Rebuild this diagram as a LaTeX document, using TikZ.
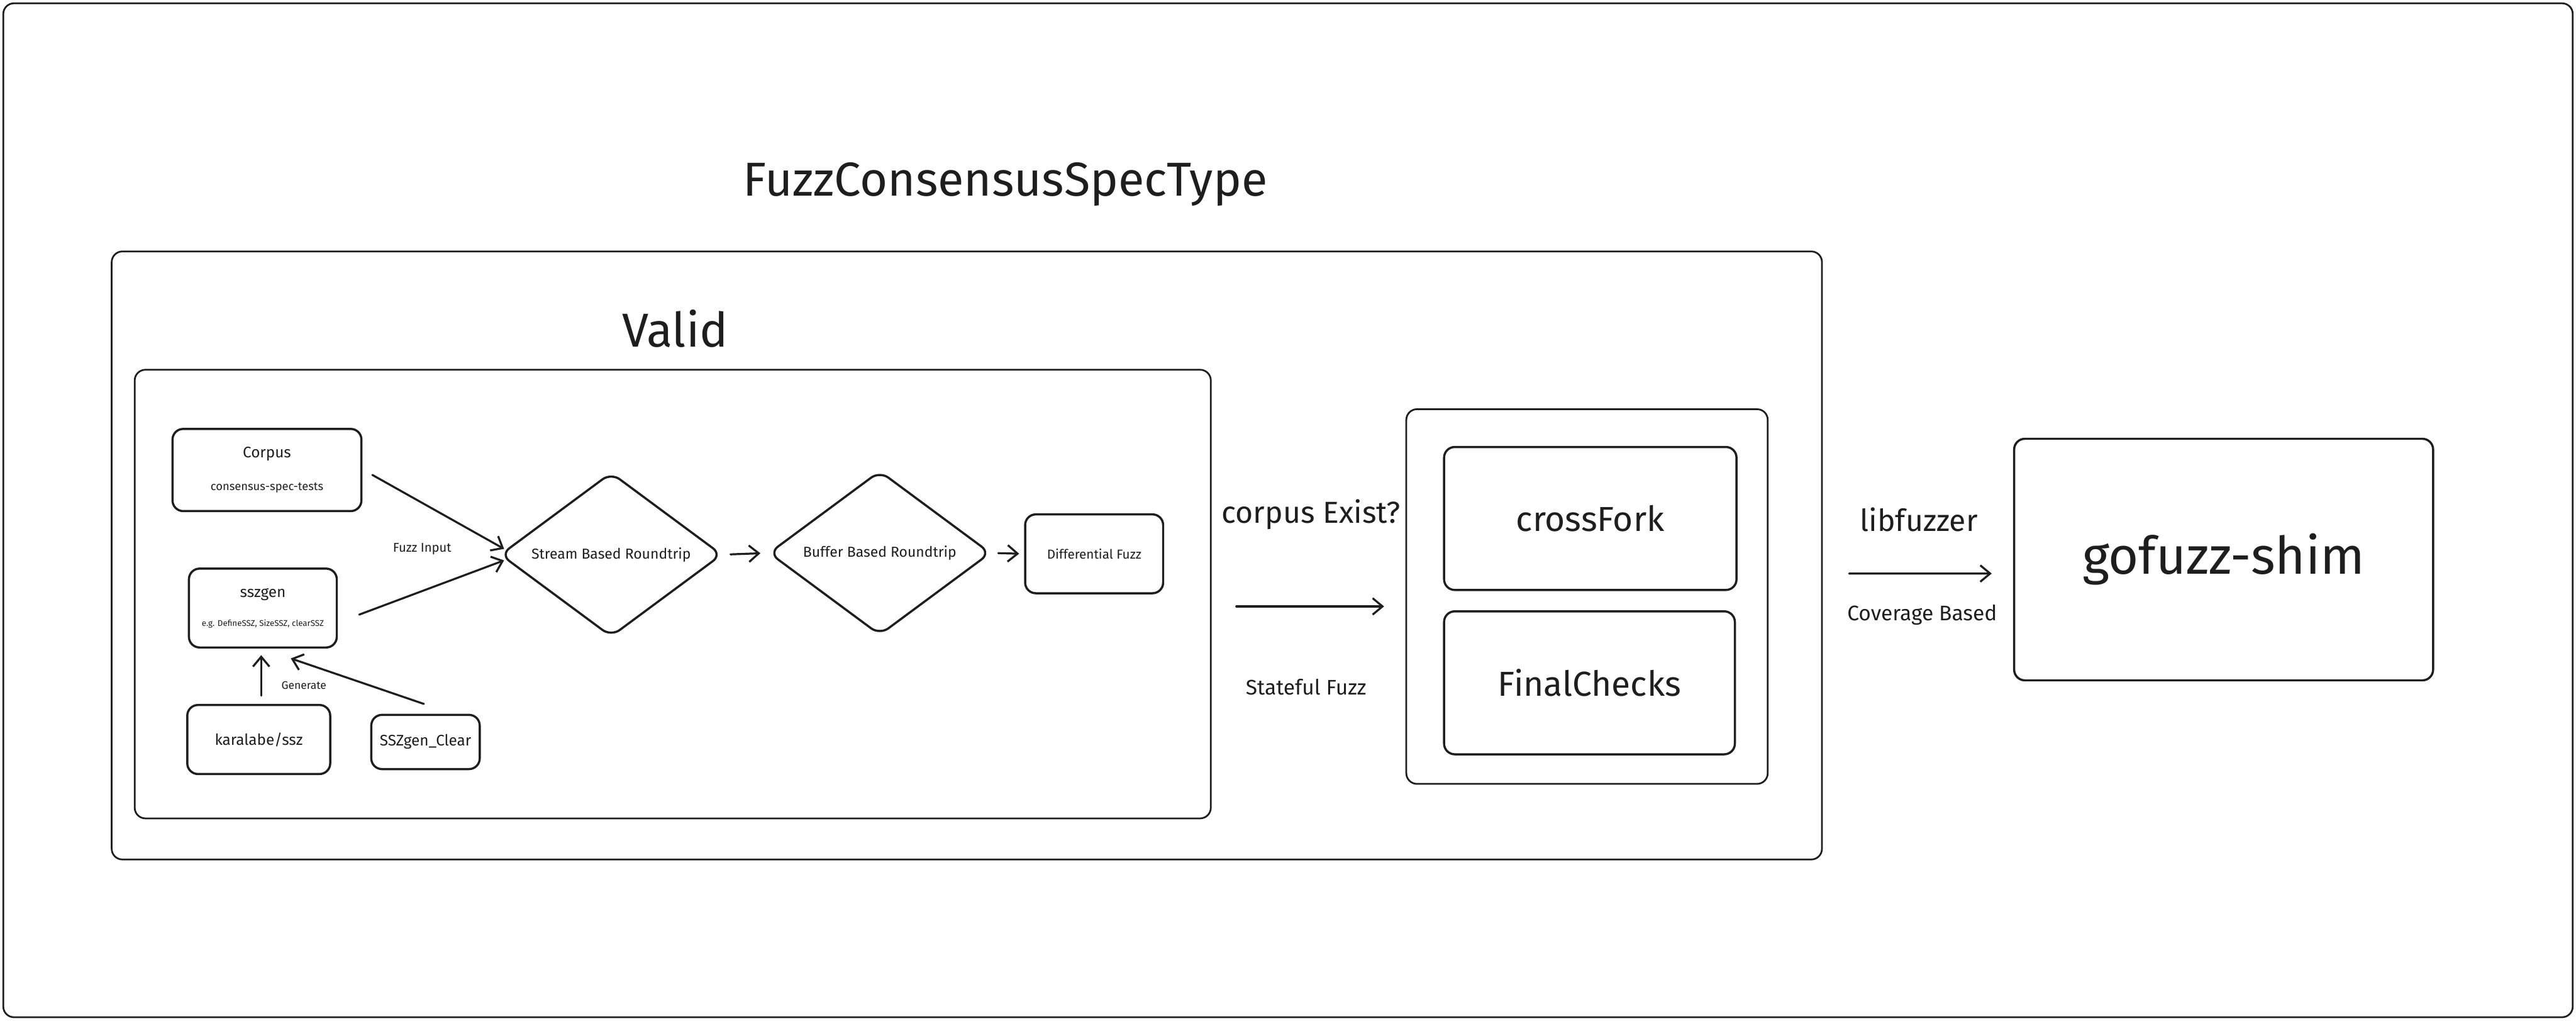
\documentclass[tikz,border=0pt]{standalone}
\usepackage{fontspec}
\setmainfont{Fira Sans}
\usepackage{tikz}
\usetikzlibrary{arrows.meta,positioning,shapes.geometric}
\definecolor{xink}{RGB}{30,30,30}
\newcommand{\fsz}[1]{\fontsize{#1pt}{#1pt}\selectfont}
\tikzset{
  grp/.style={draw=xink, line width=0.6pt, rounded corners=1.3mm, inner sep=0pt},
  pbox/.style={
    draw=xink, line width=0.75pt, rounded corners=1.3mm,
    align=center, inner sep=0pt, text=xink, font=\fsz{5.3}
  },
  dia/.style={
    pbox, shape=diamond, aspect=1.35, rounded corners=1.3mm,
    minimum width=27mm, minimum height=20mm, font=\fsz{5}
  },
  arr/.style={-{Straight Barb[length=1.2mm,width=2mm]}, draw=xink, line width=0.7pt},
  anno/.style={text=xink, inner sep=0pt, align=center},
  every picture/.append style={line join=round, line cap=round}
}
\begin{document}
\begin{tikzpicture}[x=0.2mm, y=-0.2mm]
  \useasboundingbox (0,0) rectangle (1568,621);
  \draw[grp] (2,2) rectangle (1566,619);
  \node[anno, font=\fsz{16.5}] (title) at (612,112) {FuzzConsensusSpecType};
  \node[grp, minimum width=208.2mm, minimum height=74mm] (spec) at (588.5,338) {};
  \node[anno, font=\fsz{16.5}] (validlbl) at (411,200) {Valid};
  \node[grp, minimum width=131mm, minimum height=54.6mm] (valid) at (409.5,361.5) {};

  % inputs
  \node[pbox, minimum width=23mm, minimum height=10mm] (corpus) at (162.5,286)
    {Corpus\\[2.1mm]{\fsz{4}consensus-spec-tests}};
  \node[pbox, minimum width=18mm, minimum height=9.6mm] (sszgen) at (160,370)
    {sszgen\\[1.7mm]{\fsz{2.9}e.g. DefineSSZ, SizeSSZ, clearSSZ}};
  \node[pbox, minimum width=17.4mm, minimum height=8.4mm] (karalabe) at (157.5,450) {karalabe/ssz};
  \node[pbox, minimum width=13.2mm, minimum height=6.6mm] (sszclear) at (259,451.5) {SSZgen\_Clear};

  % roundtrips
  \node[dia] (stream) at (372,337.5) {Stream Based Roundtrip};
  \node[dia] (buffer) at (535.5,336.5) {Buffer Based Roundtrip};
  \node[pbox, minimum width=16.8mm, minimum height=9.6mm, font=\fsz{4.5}] (diff) at (666,337) {Differential Fuzz};

  % stateful part
  \node[grp, minimum width=44mm, minimum height=45.6mm] (checks) at (966,363) {};
  \node[pbox, minimum width=35.6mm, minimum height=17.4mm, font=\fsz{12}] (crossfork) at (968,315.5) {crossFork};
  \node[pbox, minimum width=35.4mm, minimum height=17.4mm, font=\fsz{12}] (finalchecks) at (967.5,415.5) {FinalChecks};
  \node[pbox, minimum width=51mm, minimum height=29.4mm, font=\fsz{18}] (shim) at (1353.5,340.5) {gofuzz-shim};

  % labels
  \node[anno, font=\fsz{4.4}] (fuzzin) at (257,334) {Fuzz Input};
  \node[anno, font=\fsz{3.8}] (gen) at (185,417) {Generate};
  \node[anno, font=\fsz{10.5}] (exist) at (798,313) {corpus Exist?};
  \node[anno, font=\fsz{7.3}] (stateful) at (795,418) {Stateful Fuzz};
  \node[anno, font=\fsz{10.5}] (libfuzz) at (1168,316) {libfuzzer};
  \node[anno, font=\fsz{7.3}] (coverage) at (1170,374) {Coverage Based};

  % connectors
  \draw[arr] ([xshift=1.2mm,yshift=-0.6mm]corpus.east) -- ([xshift=0.6mm,yshift=0.7mm]stream.west);
  \draw[arr] ([xshift=2.6mm,yshift=-0.8mm]sszgen.east) -- ([xshift=0.6mm,yshift=-0.7mm]stream.west);
  \draw[arr] ([xshift=0.3mm,yshift=1mm]karalabe.north) -- ([xshift=-0.2mm,yshift=-0.8mm]sszgen.south);
  \draw[arr] ([xshift=-0.2mm,yshift=1.2mm]sszclear.north) -- ([xshift=3.4mm,yshift=-1.2mm]sszgen.south);
  \draw[arr, shorten <=0.9mm, shorten >=0.9mm] (stream.east) -- (buffer.west);
  \draw[arr, shorten <=0.8mm, shorten >=0.6mm] (buffer.east) -- (diff.west);
  \draw[arr] ([xshift=3mm,yshift=-1.5mm]valid.east) -- ([xshift=-2.6mm,yshift=-1.2mm]checks.west);
  \draw[arr] ([xshift=3.2mm,yshift=-2.2mm]spec.east) -- ([xshift=-2.6mm,yshift=-1.7mm]shim.west);
\end{tikzpicture}
\end{document}
